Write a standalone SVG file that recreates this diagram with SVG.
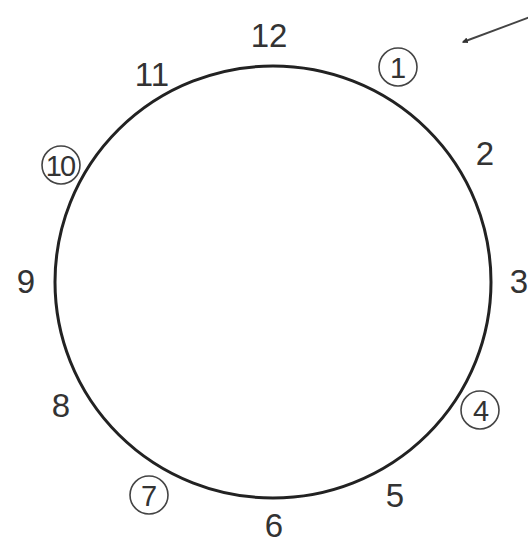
<svg xmlns="http://www.w3.org/2000/svg" width="528" height="543" viewBox="0 0 528 543">
<style>
.n{font-family:"Liberation Sans",Arial,sans-serif;font-size:33px;fill:#333;text-anchor:middle}
.c{font-size:29px}
.ring{fill:none;stroke:#444;stroke-width:1.6}
</style>
<defs>
<marker id="ah" viewBox="0 0 10 10" refX="8" refY="5" markerWidth="6" markerHeight="6" orient="auto" markerUnits="userSpaceOnUse">
<path d="M0,0 L10,5 L0,10 z" fill="#333"/>
</marker>
</defs>
<rect width="528" height="543" fill="#fff"/>
<g id="connectors">
<line x1="530" y1="17" x2="463" y2="42" stroke="#444" stroke-width="2" marker-end="url(#ah)"/>
</g>
<g id="clock">
<ellipse cx="273" cy="282" rx="218" ry="216" fill="none" stroke="#222" stroke-width="3"/>
</g>
<g id="n12"><text class="n" x="269" y="47">12</text></g>
<g id="n11"><text class="n" x="152" y="86">11</text></g>
<g id="n1"><circle class="ring" cx="398" cy="67" r="19"/><text class="n c" x="398" y="78">1</text></g>
<g id="n2"><text class="n" x="485" y="165">2</text></g>
<g id="n3"><text class="n" x="519" y="293">3</text></g>
<g id="n4"><circle class="ring" cx="480" cy="410" r="19"/><text class="n c" x="481" y="421">4</text></g>
<g id="n5"><text class="n" x="395" y="507">5</text></g>
<g id="n6"><text class="n" x="274" y="537">6</text></g>
<g id="n7"><circle class="ring" cx="149" cy="495" r="19"/><text class="n c" x="149" y="506">7</text></g>
<g id="n8"><text class="n" x="61" y="417">8</text></g>
<g id="n9"><text class="n" x="26" y="293">9</text></g>
<g id="n10"><circle class="ring" cx="61" cy="165" r="19"/><text class="n c" x="60" y="176" letter-spacing="-2">10</text></g>
</svg>
